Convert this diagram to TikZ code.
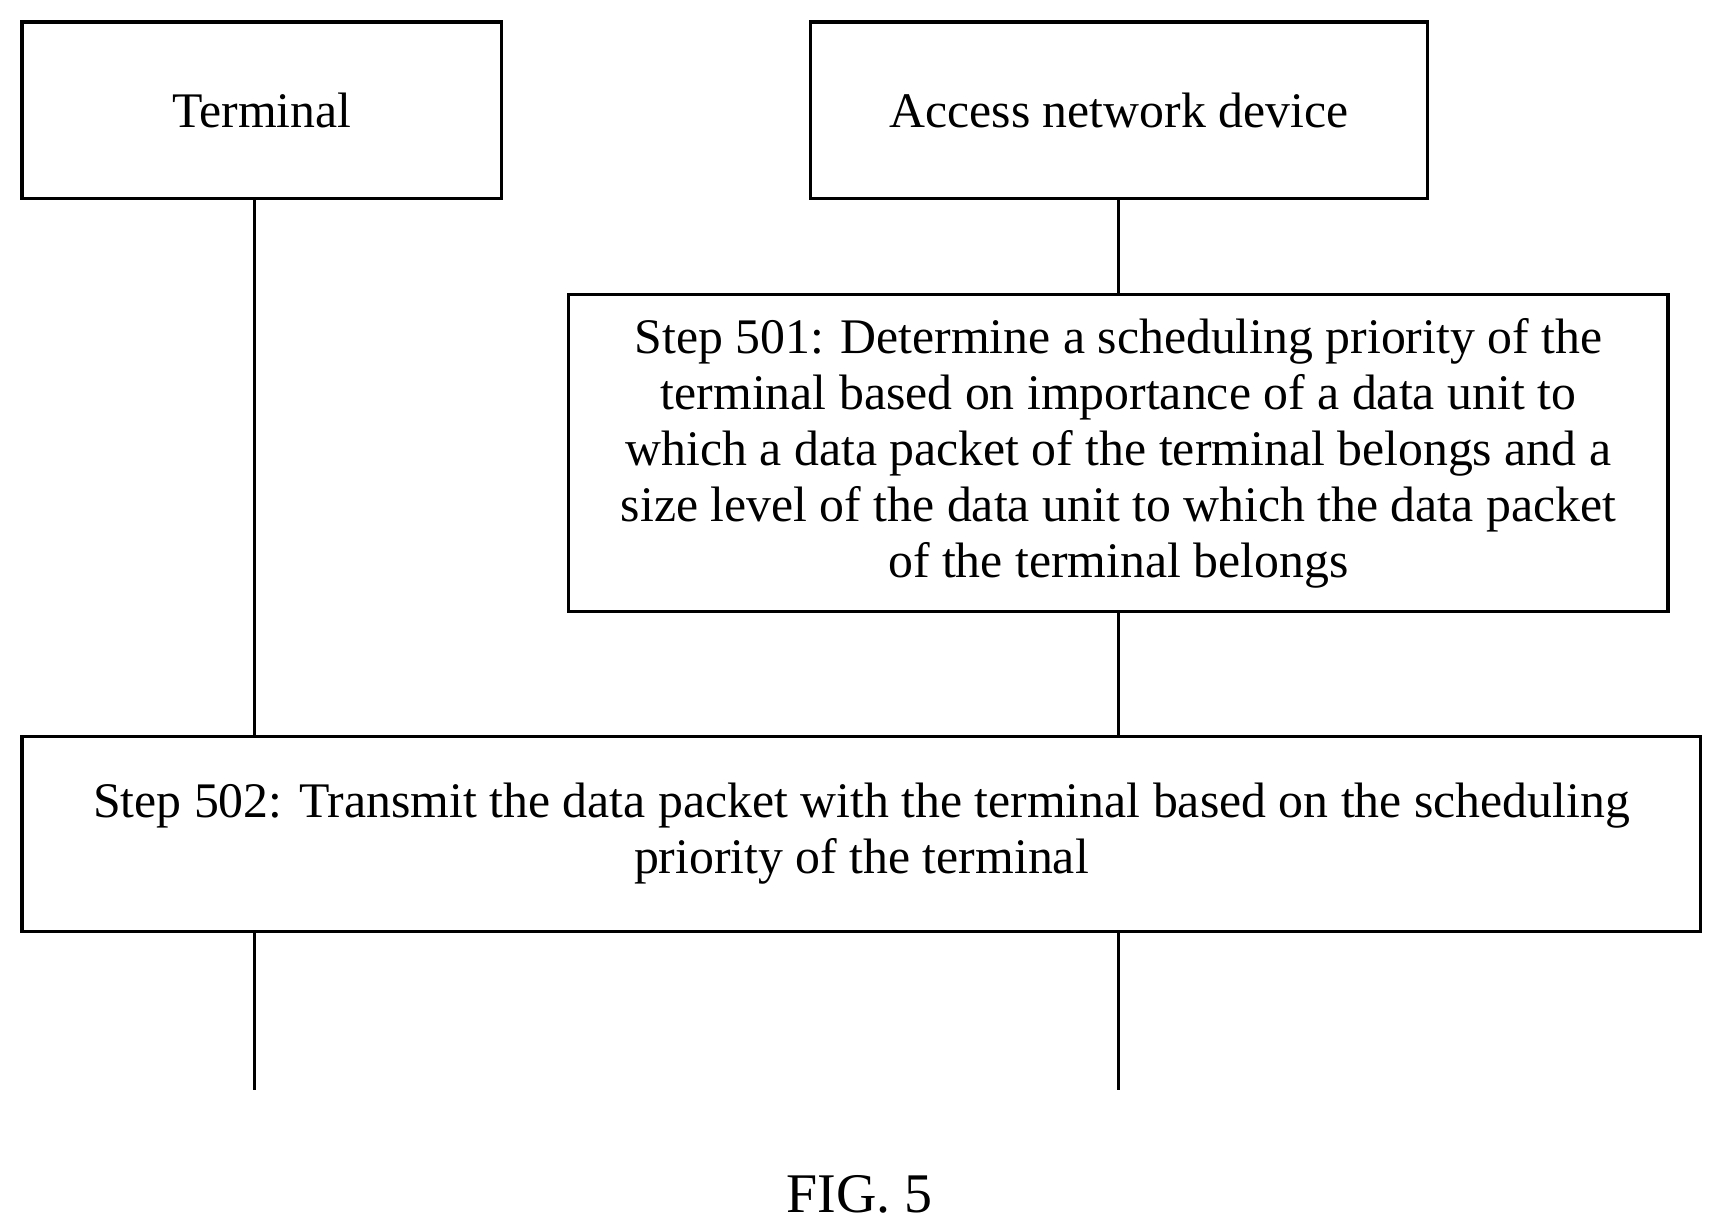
\documentclass[tikz,border=0pt]{standalone}
\usepackage{fontspec}
\setmainfont{Liberation Serif}
\usetikzlibrary{positioning}
\tikzstyle{entity}=[draw=black,shape=rectangle,line width=1.6pt,align=center,
                    font=\fontsize{25.8}{29}\selectfont]
\tikzstyle{life}=[line width=1.6pt]
\begin{document}
\begin{tikzpicture}[x=0.02cm,y=-0.02cm]
\useasboundingbox (0,0) rectangle (1560,1119);

\node [entity, minimum width=437*0.02cm, minimum height=161*0.02cm] (term) at (238.5,100.5) {Terminal};
\node [entity, minimum width=562*0.02cm, minimum height=161*0.02cm] (and) at (1019,100.5) {Access network device};

\node [entity, minimum width=1001*0.02cm, minimum height=289*0.02cm] (s501) at (1018.5,412.5)
  {Step 501: Determine a scheduling priority of the\\
   terminal based on importance of a data unit to\\
   which a data packet of the terminal belongs and a\\
   size level of the data unit to which the data packet\\
   of the terminal belongs};

\node [entity, minimum width=1529*0.02cm, minimum height=177*0.02cm] (s502) at (784.5,759.5)
  {Step 502: Transmit the data packet with the terminal based on the scheduling\\
   priority of the terminal};

\coordinate (tend) at (232,993);
\coordinate (aend) at (1019,993);

% life lines
\draw [life] (term.south -| tend) -- (s502.north -| tend);
\draw [life] (s502.south -| tend) -- (tend);
\draw [life] (and.south) -- (s501.north -| and.south);
\draw [life] (s501.south -| aend) -- (s502.north -| aend);
\draw [life] (s502.south -| aend) -- (aend);

\node [font=\fontsize{29}{32}\selectfont] (cap) at (783,1088) {FIG. 5};
\end{tikzpicture}
\end{document}
